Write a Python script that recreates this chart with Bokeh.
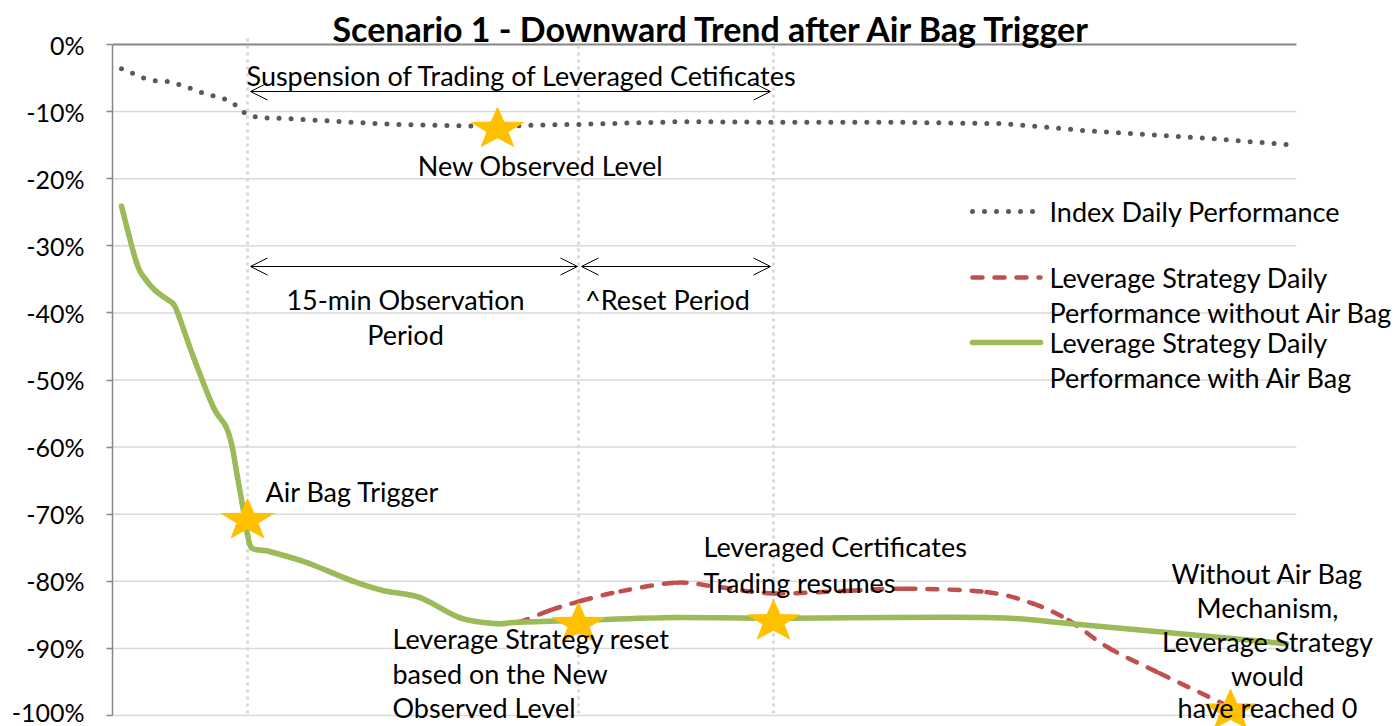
import numpy as np
from bokeh.plotting import figure
from bokeh.models import Range1d, Label, Arrow, OpenHead, FixedTicker
from bokeh.embed import file_html
from bokeh.resources import INLINE

# ---------------- data (time index t, performance in %) ----------------
index_t = [0.9, 2.0, 3.1, 4.3, 5.5, 6.7, 7.9, 9.0, 10.2, 11.4, 12.4, 13.3, 14.5, 16.9,
           20.6, 24.2, 28.0, 33.8, 38.5, 42.8, 46.8, 56.8, 66.8, 78.8, 89.1, 97.8, 108.8, 117.4]
index_pct = [-3.6, -4.3, -5.0, -5.4, -5.5, -6.0, -6.6, -7.2, -7.7, -8.2, -9.1, -10.3, -10.9, -11.0,
             -11.3, -11.6, -11.9, -12.1, -12.2, -12.0, -11.9, -11.5, -11.6, -11.6, -11.8, -12.9, -13.9, -14.9]

with_t = [0.9, 2.4, 3.3, 4.3, 5.3, 6.1, 6.6, 8.1, 10.1, 11.3, 11.9, 12.5, 13.1, 13.5, 13.9, 15.0, 15.8,
          19.4, 23.9, 27.1, 30.7, 34.7, 38.3, 40.6, 46.9, 56.4, 66.1, 87.4, 95.6, 117.4]
with_pct = [-24.1, -32.5, -35.0, -36.7, -37.8, -38.7, -40.3, -46.6, -54.1, -56.8, -59.5, -64.5, -69.5,
            -73.0, -75.0, -75.4, -75.6, -77.2, -79.9, -81.4, -82.4, -85.4, -86.3, -86.1, -85.8, -85.4,
            -85.5, -85.4, -86.3, -89.3]

without_t = [0.9, 2.4, 3.3, 4.3, 5.3, 6.1, 6.6, 8.1, 10.1, 11.3, 11.9, 12.5, 13.1, 13.5, 13.9, 15.0,
             15.8, 19.4, 23.9, 27.1, 30.7, 34.7, 38.3, 40.6, 43.8, 46.9, 50.8, 56.4, 60.8, 66.1, 73.8,
             79.3, 87.4, 92.0, 95.6, 99.6, 104.7, 111.0]
without_pct = [-24.1, -32.5, -35.0, -36.7, -37.8, -38.7, -40.3, -46.6, -54.1, -56.8, -59.5, -64.5, -69.5,
               -73.0, -75.0, -75.4, -75.6, -77.2, -79.9, -81.4, -82.4, -85.4, -86.3, -86.1, -84.3, -82.9,
               -81.5, -80.2, -80.9, -81.8, -81.4, -81.1, -81.6, -83.3, -85.8, -89.9, -93.7, -98.2]

star_t = [13.5, 38.5, 46.6, 66.1, 111.8]
star_pct = [-70.9, -12.6, -86.4, -86.0, -99.3]

event_t = [13.5, 46.6, 66.1]   # air bag trigger, reset on new observed level, trading resumes

y_ticks = [0, -10, -20, -30, -40, -50, -60, -70, -80, -90, -100]
y_tick_labels = ["0%", "-10%", "-20%", "-30%", "-40%", "-50%", "-60%", "-70%", "-80%", "-90%", "-100%"]

series_names = ["Index Daily Performance",
                "Leverage Strategy Daily\nPerformance without Air Bag",
                "Leverage Strategy Daily\nPerformance with Air Bag"]

# ---------------- layout / style ----------------
W, H = 1397, 726
B_LEFT = 112                 # frame starts where the y axis is drawn
PX_X = 10.0                  # px per time unit
PX_Y = 6.71                  # px per percentage point
ZERO_Y = 44                  # pixel row of 0%
X_MIN = 0.0
X_MAX = X_MIN + (W - B_LEFT) / PX_X
Y_MAX = ZERO_Y / PX_Y
Y_MIN = -(H - ZERO_Y) / PX_Y
PLOT_RIGHT_PX = 1296         # where gridlines end


def tx(px):   # pixel x -> data x (annotation placement)
    return X_MIN + (px - B_LEFT) / PX_X


def ty(py):   # pixel y -> data y
    return -(py - ZERO_Y) / PX_Y


FONT = "Lato"
FS = "27px"
GRID = "#D9D9D9"
AXIS = "#868686"
GREEN = "#9BBB59"
RED = "#C0504D"
INDEX_C = "#595959"
STAR_C = "#FFC000"

p = figure(width=W, height=H, x_range=Range1d(X_MIN, X_MAX), y_range=Range1d(Y_MIN, Y_MAX),
           output_backend="svg", toolbar_location=None, x_axis_location=None,
           min_border_left=B_LEFT, min_border_right=0, min_border_top=0, min_border_bottom=0)
p.title.visible = False
p.outline_line_color = None
p.background_fill_color = "white"
p.border_fill_color = "white"
p.xgrid.visible = False
p.ygrid.visible = False

ax = p.yaxis[0]
ax.ticker = FixedTicker(ticks=y_ticks)
ax.bounds = (min(y_ticks), max(y_ticks))
ax.major_label_overrides = {t: l for t, l in zip(y_ticks, y_tick_labels)}
ax.axis_line_color = AXIS
ax.axis_line_width = 1.5
ax.major_tick_line_color = AXIS
ax.major_tick_line_width = 1.5
ax.major_tick_out = 6
ax.major_tick_in = 0
ax.minor_tick_line_color = None
ax.major_label_text_font = FONT
ax.major_label_text_font_size = "25px"
ax.major_label_text_color = "black"
ax.major_label_standoff = 22

# horizontal gridlines (end at the plot-area edge) and the category axis at 0%
grid_ticks = [t for t in y_ticks if t != 0]
p.segment(x0=[X_MIN] * len(grid_ticks), x1=[tx(PLOT_RIGHT_PX)] * len(grid_ticks),
          y0=grid_ticks, y1=grid_ticks, line_color=GRID, line_width=1.5)
p.segment(x0=[X_MIN], x1=[tx(PLOT_RIGHT_PX)], y0=[0], y1=[0], line_color=AXIS, line_width=2)

# event vertical dotted lines
n_ev = len(event_t)
p.segment(x0=event_t, x1=event_t, y0=[ty(38)] * n_ev, y1=[min(y_ticks)] * n_ev,
          line_color=GRID, line_width=3, line_dash="3 4")


def smooth(xs, ys, **kw):
    """Draw a series as a smoothed path (Catmull-Rom segments as cubic Beziers)."""
    P = np.column_stack([xs, ys]).astype(float)
    n = len(P)
    x0, y0, x1, y1, cx0, cy0, cx1, cy1 = ([] for _ in range(8))
    for i in range(n - 1):
        p0 = P[i - 1] if i > 0 else P[i]
        p1, p2 = P[i], P[i + 1]
        p3 = P[i + 2] if i + 2 < n else P[i + 1]
        c1 = p1 + (p2 - p0) / 6.0
        c2 = p2 - (p3 - p1) / 6.0
        x0.append(p1[0]); y0.append(p1[1]); x1.append(p2[0]); y1.append(p2[1])
        cx0.append(c1[0]); cy0.append(c1[1]); cx1.append(c2[0]); cy1.append(c2[1])
    p.bezier(x0=x0, y0=y0, x1=x1, y1=y1, cx0=cx0, cy0=cy0, cx1=cx1, cy1=cy1, **kw)


# series
smooth(without_t, without_pct, line_color=RED, line_width=4.5, line_dash="10 12", line_cap="round")
smooth(with_t, with_pct, line_color=GREEN, line_width=5.5, line_cap="round")
p.line(index_t, index_pct, line_color=INDEX_C, line_width=5, line_dash="0 12", line_cap="round")

# stars (flattened 5-point stars, size given in pixels)
STAR_RX, STAR_RY = 27.5, 21.5
ang = np.pi / 2 + np.arange(10) * np.pi / 5
rad = np.where(np.arange(10) % 2 == 0, 1.0, 0.40)
sx_off = rad * np.cos(ang) * STAR_RX / PX_X
sy_off = rad * np.sin(ang) * STAR_RY / PX_Y
xs = [list(t + sx_off) for t in star_t]
ys = [list(v + sy_off) for v in star_pct]
p.patches(xs, ys, fill_color=STAR_C, line_color=STAR_C, line_width=1)


def double_arrow(x0, x1, y):
    p.add_layout(Arrow(start=OpenHead(size=17, line_width=1, line_color="black"),
                       end=OpenHead(size=17, line_width=1, line_color="black"),
                       x_start=x0, y_start=y, x_end=x1, y_end=y,
                       line_color="black", line_width=1.2))


double_arrow(event_t[0] + 0.3, event_t[2] - 0.3, ty(91))
double_arrow(event_t[0] + 0.3, event_t[1] - 0.1, ty(266))
double_arrow(event_t[1] + 0.3, event_t[2] - 0.3, ty(266))


def label(text, px, py, align="left", size=FS, style="normal"):
    p.add_layout(Label(x=tx(px), y=ty(py), text=text, text_font=FONT, text_font_size=size,
                       text_font_style=style, text_align=align, text_baseline="middle",
                       text_color="black"))


# title
label("Scenario 1 - Downward Trend after Air Bag Trigger", 712, 28, "center", "34px", "bold")

label("Suspension of Trading of Leveraged Cetificates", 246, 75)
label("New Observed Level", 540, 165, "center")
label("15-min Observation", 405, 299, "center")
label("Period", 405, 334, "center")
label("^Reset Period", 667, 299, "center")
label("Air Bag Trigger", 265, 491)
label("Leveraged Certificates", 703, 546)
label("Trading resumes", 703, 582)
for line_txt, yy in zip(["Leverage Strategy reset", "based on the New", "Observed Level"],
                        [638, 673, 707]):
    label(line_txt, 392, yy)
for line_txt, yy in zip(["Without Air Bag", "Mechanism,", "Leverage Strategy", "would", "have reached 0"],
                        [573, 607, 641, 675, 707]):
    label(line_txt, 1267, yy, "center")

# legend (manual, transparent like the original)
LEG_X0, LEG_X1, LEG_TX = 972, 1040, 1049
leg_rows = [211, 277, 342]
p.line([tx(LEG_X0), tx(LEG_X1)], [ty(leg_rows[0])] * 2, line_color=INDEX_C, line_width=5,
       line_dash="0 12", line_cap="round")
p.line([tx(LEG_X0), tx(LEG_X1)], [ty(leg_rows[1])] * 2, line_color=RED, line_width=4.5,
       line_dash="10 12", line_cap="round")
p.line([tx(LEG_X0), tx(LEG_X1)], [ty(leg_rows[2])] * 2, line_color=GREEN, line_width=5.5,
       line_cap="round")
for row, name in zip(leg_rows, series_names):
    for j, part in enumerate(name.split("\n")):
        label(part, LEG_TX, row + 35 * j)

open("out.html", "w").write(file_html(p, INLINE))
